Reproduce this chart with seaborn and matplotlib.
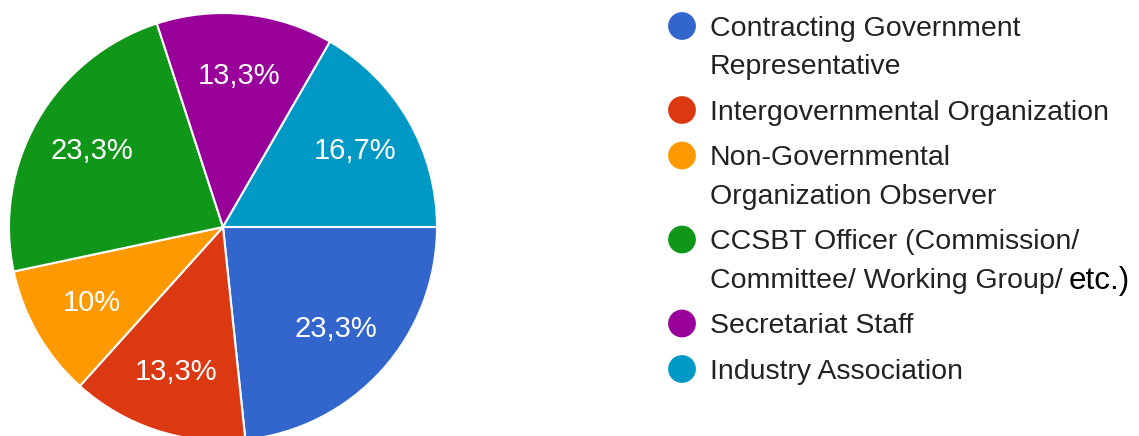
import matplotlib
matplotlib.use("Agg")
import matplotlib.pyplot as plt
import seaborn as sns

# Данные: число ответов (30 респондентов)
categories = [
    "Contracting Government\nRepresentative",
    "Intergovernmental Organization",
    "Non-Governmental\nOrganization Observer",
    "CCSBT Officer (Commission/\nCommittee/ Working Group/",
    "Secretariat Staff",
    "Industry Association",
]
counts = [7, 4, 3, 7, 4, 5]
colors = ["#3366CC", "#DC3912", "#FF9900", "#109618", "#990099", "#0099C6"]

sns.set_theme(style="white")
plt.rcParams["font.family"] = ["Liberation Sans", "DejaVu Sans"]

W, H = 1139, 436
fig = plt.figure(figsize=(W / 100, H / 100), dpi=100)


def pct_fmt(p):
    s = f"{p:.1f}".rstrip("0").rstrip(".")
    return s.replace(".", ",") + "%"


# --- Круговая диаграмма ---
ax = fig.add_axes([9 / W, -5 / H, 428 / W, 428 / H])
wedges, texts, autotexts = ax.pie(
    counts,
    colors=colors,
    startangle=0,
    counterclock=False,
    autopct=pct_fmt,
    pctdistance=0.71,
    radius=1,
    wedgeprops={"edgecolor": "white", "linewidth": 1.5},
    textprops={"color": "white", "fontsize": 21},
)
ax.set_xlim(-1, 1)
ax.set_ylim(-1, 1)
ax.axis("off")

# --- Легенда (вручную, в пиксельных координатах) ---
lax = fig.add_axes([0, 0, 1, 1])
lax.set_xlim(0, W)
lax.set_ylim(H, 0)
lax.axis("off")

y = 25.5
line_h = 38.5
gap = 45.5
text_color = "#222222"
for i, (label, col) in enumerate(zip(categories, colors)):
    lines = label.split("\n")
    lax.scatter([682], [y + 0.5], s=400, color=col, edgecolors="none")
    for j, line in enumerate(lines):
        yy = y + j * line_h
        t = lax.text(710, yy + 10, line, fontsize=20.5, color=text_color,
                     va="baseline", ha="left")
        if i == 3 and j == 1:
            fig.canvas.draw()
            bb = t.get_window_extent()
            lax.text(bb.x1 + 6, yy + 11.5, "etc.)", fontsize=22.5,
                     color="black", va="baseline", ha="left")
    y += (len(lines) - 1) * line_h + gap

fig.savefig("out.png", dpi=100)
